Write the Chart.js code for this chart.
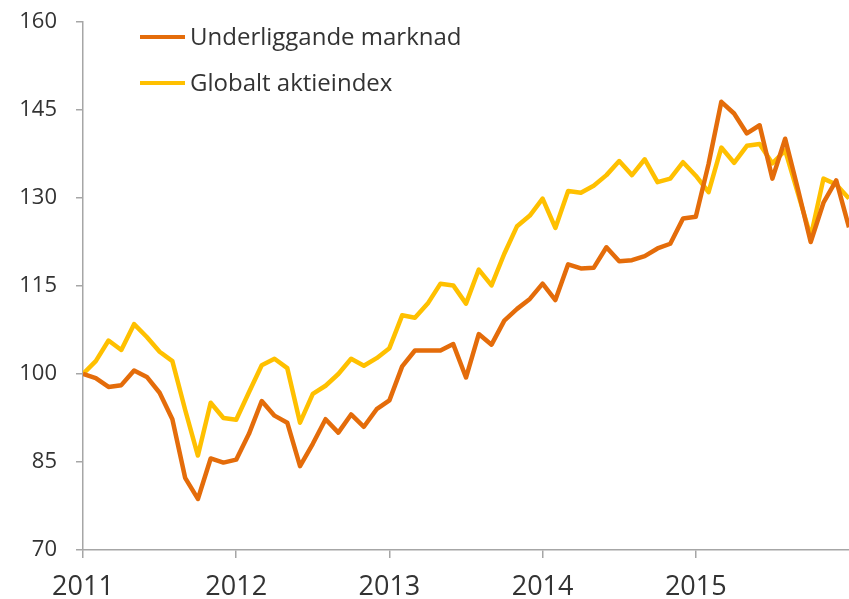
<!DOCTYPE html>
<html lang="sv">
<head>
<meta charset="utf-8">
<title>Underliggande marknad mot globalt aktieindex</title>
<script src="https://cdn.jsdelivr.net/npm/chart.js@4.4.1/dist/chart.umd.min.js"></script>
<style>
    html, body { margin: 0; padding: 0; background: #fff; }
    #wrap { width: 849px; height: 599px; }
</style>
</head>
<body>
<div id="wrap"><canvas id="indexChart" width="849" height="599"></canvas></div>
<script>
// månadsdata jan 2011 - jan 2016, index 100 = jan 2011
const arLabels = ["2011", "2012", "2013", "2014", "2015"];
const arTicks = [0, 12, 24, 36, 48];
const yTicks = [70, 85, 100, 115, 130, 145, 160];

const underliggande = [
    100, 99.3, 97.8, 98.1, 100.6, 99.5, 96.8, 92.3, 82.3, 78.7, 85.6, 84.9,
    85.4, 89.8, 95.4, 92.9, 91.7, 84.3, 88.1, 92.3, 90.0, 93.1, 91.0, 94.0,
    95.5, 101.3, 104.0, 104.0, 104.0, 105.1, 99.4, 106.8, 105.0, 109.1, 111.1, 112.8,
    115.4, 112.6, 118.7, 118.0, 118.1, 121.6, 119.2, 119.4, 120.1, 121.4, 122.2, 126.5,
    126.8, 135.8, 146.4, 144.4, 141.0, 142.4, 133.3, 140.1, 131.5, 122.5, 129.2, 133.0,
    125.0
];

const globalt = [
    100, 102.2, 105.7, 104.1, 108.5, 106.3, 103.8, 102.2, 93.9, 86.1, 95.1, 92.5,
    92.2, 96.9, 101.5, 102.6, 101.0, 91.7, 96.6, 98.0, 100.0, 102.6, 101.4, 102.7,
    104.4, 110.0, 109.6, 112.0, 115.4, 115.1, 112.0, 117.8, 115.1, 120.5, 125.2, 127.0,
    129.9, 124.9, 131.2, 130.9, 132.1, 133.9, 136.3, 133.9, 136.6, 132.7, 133.3, 136.1,
    133.8, 131.0, 138.6, 136.0, 138.9, 139.2, 135.9, 138.1, 130.8, 123.4, 133.3, 132.3,
    129.9
];

const serier = [
    { namn: "Underliggande marknad", varden: underliggande, farg: "#E46C0A" },
    { namn: "Globalt aktieindex", varden: globalt, farg: "#FFC000" }
];

const FONT = "'Open Sans', 'Noto Sans', sans-serif";
const axelFarg = "#a6a6a6";
const textFarg = "#333333";

// legenden ligger inne i diagrammet, ritas för hand
const legendInne = {
    id: "legendInne",
    afterDraw(chart) {
        const ctx = chart.ctx;
        ctx.save();
        chart.data.datasets.forEach((ds, i) => {
            const y = 37 + i * 46;
            ctx.strokeStyle = ds.borderColor;
            ctx.lineWidth = 4;
            ctx.beginPath();
            ctx.moveTo(140, y);
            ctx.lineTo(185, y);
            ctx.stroke();
            ctx.fillStyle = textFarg;
            ctx.font = "24px " + FONT;
            ctx.textAlign = "left";
            ctx.textBaseline = "middle";
            ctx.fillText(ds.label, 190, y + 1);
        });
        ctx.restore();
    }
};

new Chart(
    document.getElementById("indexChart"),
    {
        type: "line",
        data: {
            datasets: serier.map(s => ({
                label: s.namn,
                data: s.varden.map((v, i) => ({ x: i, y: v })),
                borderColor: s.farg,
                backgroundColor: s.farg,
                borderWidth: 4.5,
                pointRadius: 0,
                tension: 0,
                borderJoinStyle: "round"
            }))
        },
        options: {
            responsive: false,
            animation: false,
            events: [],
            layout: { padding: { top: 22, right: 0, left: 0, bottom: 0 } },
            plugins: {
                legend: { display: false },
                tooltip: { enabled: false }
            },
            scales: {
                x: {
                    type: "linear",
                    min: 0,
                    max: 60,
                    afterBuildTicks: axis => { axis.ticks = arTicks.map(v => ({ value: v })); },
                    afterFit: axis => { axis.height = 49; axis.paddingLeft = 0; axis.paddingRight = 0; },
                    border: { color: axelFarg, width: 1.5 },
                    grid: { drawOnChartArea: false, drawTicks: true, tickLength: 8, color: axelFarg, lineWidth: 1.5 },
                    ticks: {
                        autoSkip: false,
                        maxRotation: 0,
                        padding: 13,
                        color: textFarg,
                        font: { family: FONT, size: 27 },
                        callback: v => arLabels[arTicks.indexOf(v)]
                    }
                },
                y: {
                    min: 70,
                    max: 160,
                    afterBuildTicks: axis => { axis.ticks = yTicks.map(v => ({ value: v })); },
                    afterFit: axis => { axis.width = 83; axis.paddingTop = 0; axis.paddingBottom = 0; },
                    border: { color: axelFarg, width: 1.5 },
                    grid: { drawOnChartArea: false, drawTicks: true, tickLength: 7, color: axelFarg, lineWidth: 1.5 },
                    ticks: {
                        padding: 19,
                        color: textFarg,
                        font: { family: FONT, size: 22 }
                    }
                }
            }
        },
        plugins: [legendInne]
    }
);
</script>
</body>
</html>
